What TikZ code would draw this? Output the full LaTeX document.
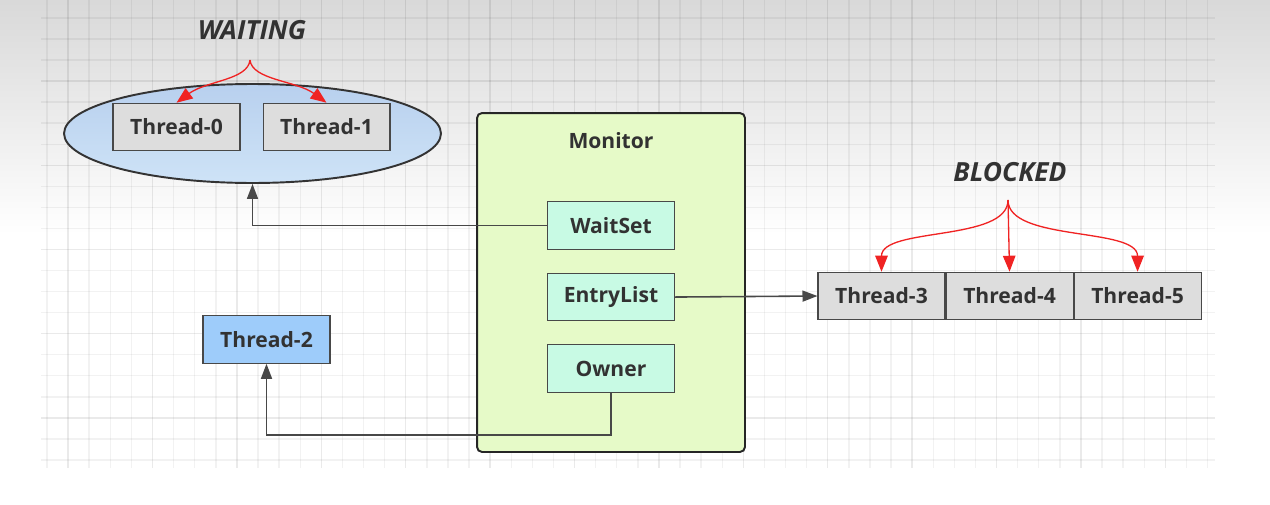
\documentclass[tikz,border=0pt]{standalone}
\usepackage{fontspec}
\setmainfont{Open Sans}
\usepackage{tikz}
\usetikzlibrary{positioning, shapes.geometric, arrows.meta}

\definecolor{linegray}{RGB}{72,72,72}
\definecolor{boxgray}{RGB}{221,221,221}
\definecolor{mintbox}{RGB}{200,250,228}
\definecolor{monfill}{RGB}{230,250,200}
\definecolor{bluebox}{RGB}{158,204,250}
\definecolor{forkred}{RGB}{240,35,35}
\definecolor{labeltext}{RGB}{50,50,50}

\begin{document}
\begin{tikzpicture}[x=0.02cm,y=-0.02cm,>={Triangle[length=0.3cm,width=0.22cm]},
                    semithick]
\tikzstyle{thread}=[draw=linegray,fill=boxgray,text=labeltext,inner sep=0pt,
                    minimum width=2.54cm,minimum height=0.95cm]
\tikzstyle{slot}=[thread,fill=mintbox]
\tikzstyle{status}=[text=labeltext,font=\bfseries\itshape\fontsize{15pt}{18pt}\selectfont]
\tikzstyle{conn}=[->,draw=linegray,line width=0.9pt]
\tikzstyle{fork}=[-{Triangle[length=0.32cm,width=0.25cm]},draw=forkred,line width=0.75pt]
\tikzstyle{gridline}=[draw=black,opacity=0.05,line width=0.8pt]
\tikzset{font=\bfseries\fontsize{12pt}{14pt}\selectfont}

        \useasboundingbox (0,0) rectangle (1270,504);
        \shade[top color=black!15,bottom color=white] (0,0) rectangle (1270,235);
        \foreach \k in {0,...,55}
            \draw[gridline] ({47+21.1*\k},0) -- ({47+21.1*\k},468);
        \foreach \k in {0,...,21}
            \draw[gridline] (41,{17.9+21.05*\k}) -- (1215,{17.9+21.05*\k});
        \foreach \k in {0,...,13}
            \draw[gridline,opacity=0.03] ({68+84.4*\k},0) -- ({68+84.4*\k},468);
        \foreach \k in {0,...,4}
            \draw[gridline,opacity=0.03] (41,{81+84.2*\k}) -- (1215,{81+84.2*\k});

        \node[ellipse,draw=black!80,line width=1.1pt,top color={rgb,255:red,184;green,208;blue,238},
              bottom color={rgb,255:red,206;green,227;blue,247},minimum width=7.54cm,
              minimum height=1.98cm]                                   (waitpool) at (252.5,133.5) {};
        \node[thread]                                                 (t0)  at (176.5,127) {Thread-0};
        \node[thread]                                                 (t1)  [right=0.44cm of t0] {Thread-1};
        \node[status]                                                 (waiting) at (252,30) {WAITING};
        \coordinate                                                   (wfork) at (250,60);

        \node[draw=black!85,line width=1.1pt,rounded corners=0.1cm,fill=monfill,
              minimum width=5.36cm,minimum height=6.78cm]              (monitor) at (611,282.5) {};
        \node[text=labeltext]                                         (montitle) at (611,141) {Monitor};
        \node[slot]                                                   (waitset) at (611,225.5) {WaitSet};
        \node[slot]                                                   (entry) [below=0.46cm of waitset] {EntryList};
        \node[slot]                                                   (owner) [below=0.46cm of entry] {Owner};

        \node[thread,fill=bluebox]                                    (t2)  at (266.5,339.5) {Thread-2};

        \node[thread]                                                 (t3)  at (881.5,296) {Thread-3};
        \node[thread]                                                 (t4)  [right=0pt of t3] {Thread-4};
        \node[thread]                                                 (t5)  [right=0pt of t4] {Thread-5};
        \node[status]                                                 (blocked) at (1010,172) {BLOCKED};
        \coordinate                                                   (bfork) at (1008,200);

        \draw[conn] (waitset.west) -| (waitpool.south);
        \draw[conn] (entry.east) -- (t3.west);
        \draw[conn] (owner.south) -- ++(0,42) -| (t2.south);

        \draw[fork] (wfork) .. controls +(-2,20) and +(30,-22) .. (t0.north);
        \draw[fork] (wfork) .. controls +(2,20) and +(-30,-22) .. (t1.north);
        \draw[fork] (bfork) .. controls +(0,42) and +(0,-45) .. (t3.north);
        \draw[fork] (bfork) -- (t4.north);
        \draw[fork] (bfork) .. controls +(0,42) and +(0,-45) .. (t5.north);
        %end forks

\end{tikzpicture}
\end{document}
